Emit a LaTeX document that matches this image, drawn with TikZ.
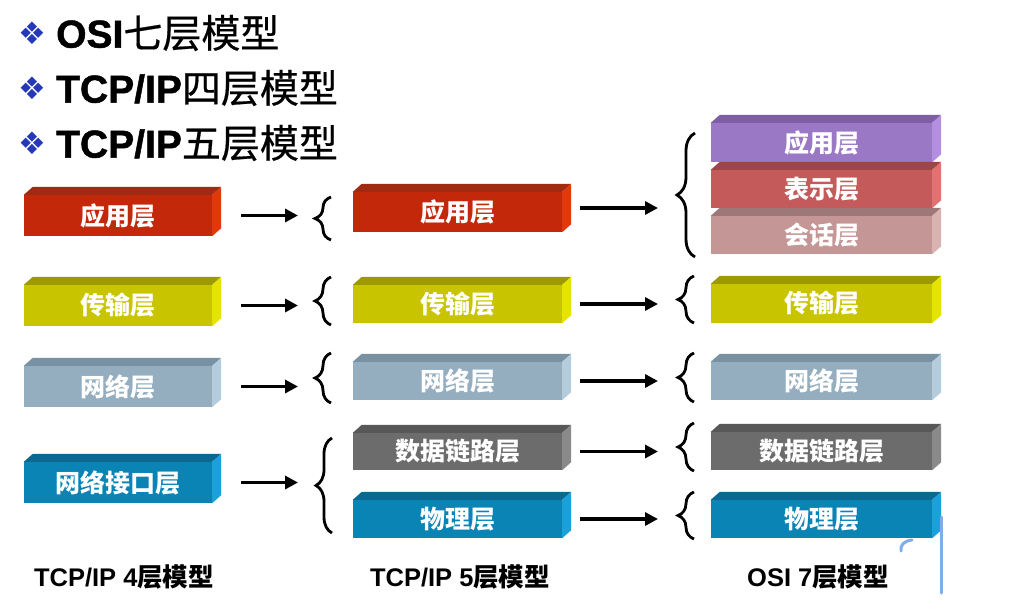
\documentclass[tikz,border=0pt]{standalone}
\usepackage{fontspec}
\setmainfont{Liberation Sans}
\newfontfamily\cjk{Noto Sans CJK SC}
\newfontfamily\cjkt{Noto Sans CJK SC}[FakeBold=0.5]
\newfontfamily\latt{Liberation Sans Bold}[FakeBold=1.2]
\newfontfamily\dejavu{DejaVu Sans}
\usetikzlibrary{arrows.meta,decorations.pathreplacing,calc}

\definecolor{redF}{HTML}{C4280A}\definecolor{redT}{HTML}{A02A12}\definecolor{redS}{HTML}{E2380E}
\definecolor{oliF}{HTML}{C8C400}\definecolor{oliT}{HTML}{9C9A00}\definecolor{oliS}{HTML}{E4E400}
\definecolor{gbF}{HTML}{94AEBF}\definecolor{gbT}{HTML}{7892A3}\definecolor{gbS}{HTML}{B4CCDC}
\definecolor{bluF}{HTML}{0A84B5}\definecolor{bluT}{HTML}{0B6890}\definecolor{bluS}{HTML}{1AA2D8}
\definecolor{dgF}{HTML}{6C6C6C}\definecolor{dgT}{HTML}{585858}\definecolor{dgS}{HTML}{8A8A8A}
\definecolor{purF}{HTML}{9B78C6}\definecolor{purT}{HTML}{7E5FA6}\definecolor{purS}{HTML}{B48EE0}
\definecolor{roseF}{HTML}{C45A5A}\definecolor{roseT}{HTML}{9E4646}\definecolor{roseS}{HTML}{E07272}
\definecolor{pinkF}{HTML}{C49696}\definecolor{pinkT}{HTML}{9E7878}\definecolor{pinkS}{HTML}{D9B2B2}
\definecolor{bulletblue}{HTML}{2438B8}
\definecolor{strayblue}{HTML}{7EAEEA}

% #1 name, #2 x-left, #3 y-top, #4 width, #5 height, #6 front, #7 top, #8 side, #9 text
\newcommand\layer[9]{%
  \node[layerbox, fill=#6, minimum width=#4pt, minimum height=#5pt] (#1) at ({#2+#4/2},{#3+#5/2}) {#9};
  \fill[#7] (#1.north west) -- ++(9,-8) -- ([shift={(9,-8)}]#1.north east) -- (#1.north east) -- cycle;
  \fill[#8] (#1.north east) -- ++(9,-8) -- ([shift={(9,-8)}]#1.south east) -- (#1.south east) -- cycle;
}

\begin{document}
\begin{tikzpicture}[x=1pt,y=-1pt,
  layerbox/.style={draw=none, inner sep=0pt, text=white, font={\cjk\bfseries\fontsize{25}{25}\selectfont}},
  arr/.style={line width=3.6pt, -{Triangle[length=13pt,width=13pt]}},
  brc/.style={decorate, decoration={brace, amplitude=16pt}, line width=2.8pt},
  bigbrc/.style={decorate, decoration={brace, amplitude=18pt}, line width=2.8pt},
  title/.style={anchor=west, inner sep=0pt, font={\fontsize{39}{39}\selectfont}},
  bullet/.style={text=bulletblue, inner sep=0pt, font={\dejavu\fontsize{31}{31}\selectfont}},
  botlabel/.style={inner sep=0pt, font={\fontsize{25.5}{25.5}\selectfont}},
  stray/.style={draw=strayblue, line width=3pt, line cap=round}]

\useasboundingbox (0,0) rectangle (1025,615);
\fill[white] (0,0) rectangle (1025,615);

% titles
\node[bullet] (b1t) at (32,33) {❖};
\node[title] (t1) at (56,33) {{\latt OSI}{\cjkt 七层模型}};
\node[bullet] (b2t) at (32,88) {❖};
\node[title] (t2) at (56,88) {{\latt TCP/IP}{\cjkt 四层模型}};
\node[bullet] (b3t) at (32,143) {❖};
\node[title] (t3) at (56,143) {{\latt TCP/IP}{\cjkt 五层模型}};

% column 1
\layer{a1}{24}{195}{188}{41}{redF}{redT}{redS}{应用层}
\layer{a2}{24}{285}{188}{41}{oliF}{oliT}{oliS}{传输层}
\layer{a3}{24}{366}{188}{41}{gbF}{gbT}{gbS}{网络层}
\layer{a4}{24}{462}{188}{41}{bluF}{bluT}{bluS}{网络接口层}

% column 2
\layer{b1}{353}{192}{209}{40}{redF}{redT}{redS}{应用层}
\layer{b2}{353}{285}{209}{38}{oliF}{oliT}{oliS}{传输层}
\layer{b3}{353}{362}{209}{38}{gbF}{gbT}{gbS}{网络层}
\layer{b4}{353}{433}{209}{37}{dgF}{dgT}{dgS}{数据链路层}
\layer{b5}{353}{500}{209}{38}{bluF}{bluT}{bluS}{物理层}

% column 3
\layer{c1}{711}{123}{221}{39}{purF}{purT}{purS}{应用层}
\layer{c2}{711}{170}{221}{38}{roseF}{roseT}{roseS}{表示层}
\layer{c3}{711}{216}{221}{38}{pinkF}{pinkT}{pinkS}{会话层}
\layer{c4}{711}{284}{221}{39}{oliF}{oliT}{oliS}{传输层}
\layer{c5}{711}{362}{221}{38}{gbF}{gbT}{gbS}{网络层}
\layer{c6}{711}{432}{221}{38}{dgF}{dgT}{dgS}{数据链路层}
\layer{c7}{711}{500}{221}{38}{bluF}{bluT}{bluS}{物理层}

% brace tips (col1 -> col2)
\coordinate (k1) at (315,218);
\coordinate (k2) at (315,301);
\coordinate (k3) at (315,378);
\coordinate (k4) at (316,485);
\draw[brc] (331,240) -- (331,197);
\draw[brc] (331,325) -- (331,277);
\draw[brc] (331,403) -- (331,353);
\draw[brc] (332,533) -- (332,438);

% brace tips (col2 -> col3)
\coordinate (m1) at (677,195);
\coordinate (m2) at (677,300);
\coordinate (m3) at (677,378);
\coordinate (m4) at (677,447);
\coordinate (m5) at (677,516);
\draw[bigbrc] (695,257) -- (695,133);
\draw[brc] (694,323) -- (694,276);
\draw[brc] (694,402) -- (694,353);
\draw[brc] (694,471) -- (694,423);
\draw[brc] (694,539) -- (694,492);

% arrows col1 -> col2
\draw[arr] ([xshift=29pt]a1.east) -- ($(a1.east -| k1)+(-17,0)$);
\draw[arr] ([xshift=29pt]a2.east) -- ($(a2.east -| k2)+(-17,0)$);
\draw[arr] ([xshift=29pt]a3.east) -- ($(a3.east -| k3)+(-17,0)$);
\draw[arr] ([xshift=29pt]a4.east) -- ($(a4.east -| k4)+(-18,0)$);

% arrows col2 -> col3
\draw[arr] ([xshift=18pt,yshift=4pt]b1.east) -- ($([yshift=4pt]b1.east -| m1)+(-19,0)$);
\draw[arr] ([xshift=18pt]b2.east) -- ($(b2.east -| m2)+(-19,0)$);
\draw[arr] ([xshift=18pt]b3.east) -- ($(b3.east -| m3)+(-19,0)$);
\draw[arr] ([xshift=18pt]b4.east) -- ($(b4.east -| m4)+(-19,0)$);
\draw[arr] ([xshift=18pt]b5.east) -- ($(b5.east -| m5)+(-19,0)$);

% bottom labels
\node[botlabel] (l1) at (124,577) {\bfseries TCP/IP 4{\cjk 层模型}};
\node[botlabel] (l2) at (460,577) {\bfseries TCP/IP 5{\cjk 层模型}};
\node[botlabel] (l3) at (818,577) {\bfseries OSI 7{\cjk 层模型}};

% stray pen marks
\draw[stray] (941,517) -- (941,593);
\draw[stray] (912,540) .. controls (904,541) and (900,545) .. (901,551);
\end{tikzpicture}
\end{document}
